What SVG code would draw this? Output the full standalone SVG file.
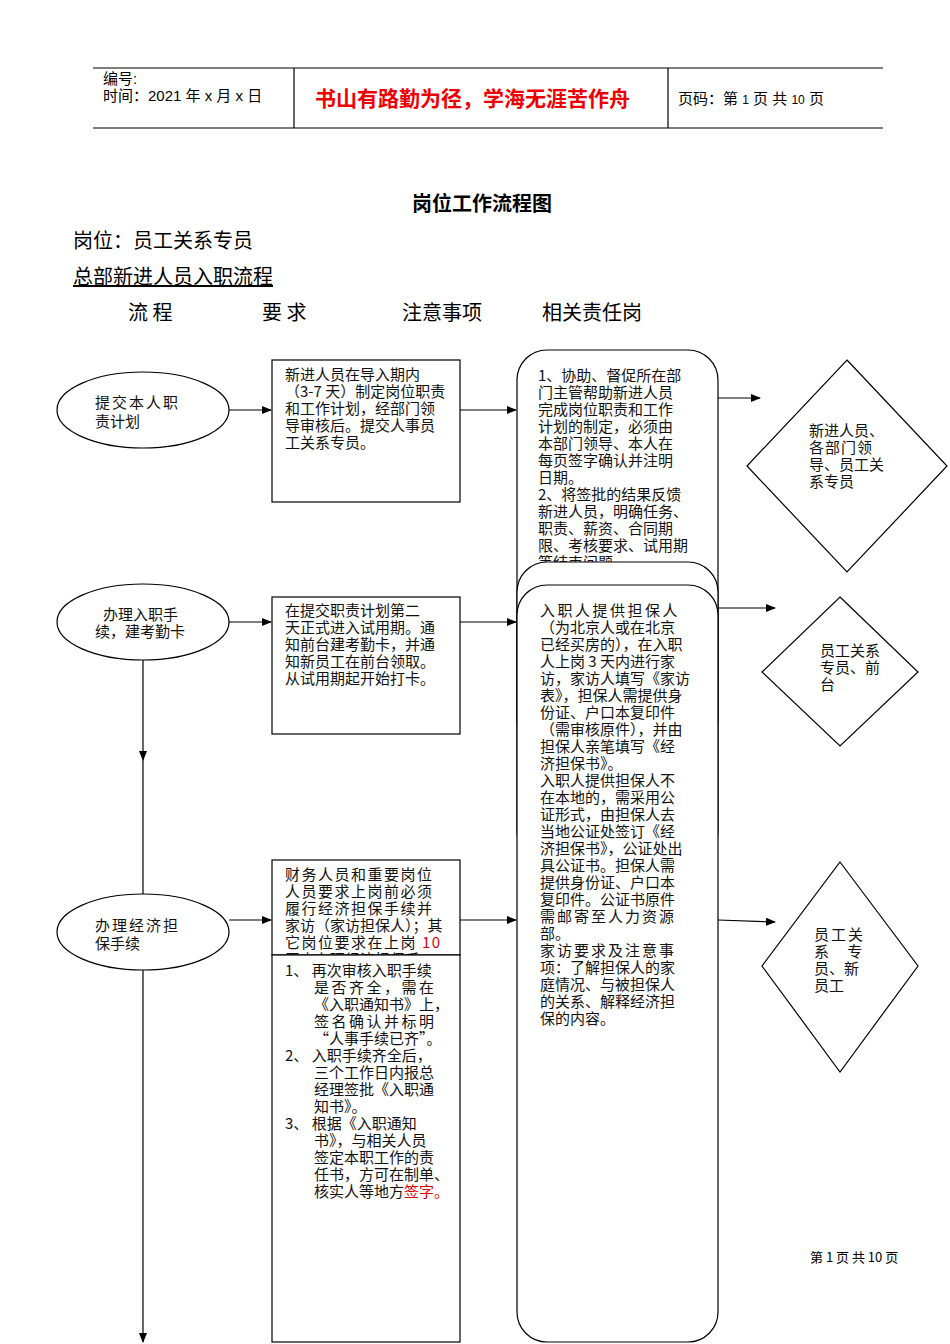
<svg xmlns="http://www.w3.org/2000/svg" width="950" height="1344" viewBox="0 0 950 1344">
<style>
.s{font-family:"Noto Sans CJK SC","Liberation Serif",serif;font-size:15px;fill:#111}
.h{font-family:"Liberation Sans","Noto Sans CJK SC",sans-serif;font-size:15px;fill:#000}
.b{fill:#fff;stroke:#000;stroke-width:1.2}
.l{stroke:#000;stroke-width:1.2;fill:none}
.r{fill:#d00}
</style>
<defs><marker id="a" markerWidth="10" markerHeight="8" refX="9" refY="4" orient="auto" markerUnits="userSpaceOnUse"><path d="M0,0L10,4L0,8z" fill="#000"/></marker>
<clipPath id="c1"><rect x="517" y="350" width="202" height="212"/></clipPath>
<clipPath id="c2"><rect x="272" y="860" width="189" height="95"/></clipPath>
</defs>
<g id="header">
<line x1="93" y1="68" x2="883" y2="68" class="l"/><line x1="93" y1="128" x2="883" y2="128" class="l"/>
<line x1="294" y1="68" x2="294" y2="128" class="l"/><line x1="668" y1="68" x2="668" y2="128" class="l"/>
<text x="103" y="84" class="h">编号:</text><text x="103" y="101" class="h">时间：2021 年 x 月 x 日</text>
<text x="315" y="106" font-family="Noto Sans CJK SC,sans-serif" font-size="21" font-weight="bold" fill="#e00">书山有路勤为径，学海无涯苦作舟</text>
<text x="678" y="104" class="h">页码：第 <tspan font-size="12">1</tspan> 页 共 <tspan font-size="12">10</tspan> 页</text>
</g>
<g id="titles" font-family="Noto Sans CJK SC,serif">
<text x="412" y="211" font-size="20" font-weight="bold">岗位工作流程图</text>
<text x="73" y="248" font-size="20">岗位：员工关系专员</text>
<text x="73" y="284" font-size="20" text-decoration="underline">总部新进人员入职流程</text>
<text x="128" y="320" font-size="20">流 程</text><text x="262" y="320" font-size="20">要 求</text>
<text x="402" y="320" font-size="20">注意事项</text><text x="542" y="320" font-size="20">相关责任岗</text>
<text x="810" y="1262" font-size="13">第 1 页 共 10 页</text>
</g>
<g id="connectors">
<line x1="229" y1="410" x2="271" y2="410" class="l" marker-end="url(#a)"/>
<line x1="460" y1="410" x2="516" y2="410" class="l" marker-end="url(#a)"/>
<line x1="718" y1="398" x2="760" y2="398" class="l" marker-end="url(#a)"/>
<line x1="229" y1="622" x2="271" y2="622" class="l" marker-end="url(#a)"/>
<line x1="460" y1="622" x2="516" y2="622" class="l" marker-end="url(#a)"/>
<line x1="718" y1="608" x2="775" y2="608" class="l" marker-end="url(#a)"/>
<line x1="229" y1="920" x2="271" y2="920" class="l" marker-end="url(#a)"/>
<line x1="460" y1="920" x2="516" y2="920" class="l" marker-end="url(#a)"/>
<line x1="718" y1="920" x2="775" y2="922" class="l" marker-end="url(#a)"/>
<line x1="143" y1="660" x2="143" y2="760" class="l" marker-end="url(#a)"/>
<line x1="143" y1="760" x2="143" y2="1342" class="l" marker-end="url(#a)"/>
</g>
<g id="n1"><ellipse cx="143" cy="410" rx="86" ry="38" class="b"/><text class="s" x="95" y="408" letter-spacing="2">提交本人职</text><text class="s" x="95" y="427">责计划</text></g>
<g id="n2"><ellipse cx="143" cy="622" rx="86" ry="38" class="b"/><text class="s" x="103" y="620">办理入职手</text><text class="s" x="95" y="637">续，建考勤卡</text></g>
<g id="n3"><ellipse cx="143" cy="932" rx="86" ry="38" class="b"/><text class="s" x="95" y="931" letter-spacing="2">办理经济担</text><text class="s" x="95" y="949">保手续</text></g>
<g id="b1"><rect x="272" y="360" width="188" height="142" class="b"/>
<text class="s" x="285" y="380">新进人员在导入期内</text><text class="s" x="285" y="397">（3-7 天）制定岗位职责</text><text class="s" x="285" y="414">和工作计划，经部门领</text><text class="s" x="285" y="431">导审核后。提交人事员</text><text class="s" x="285" y="448">工关系专员。</text></g>
<g id="b2"><rect x="272" y="597" width="188" height="137" class="b"/>
<text class="s" x="285" y="616">在提交职责计划第二</text><text class="s" x="285" y="633">天正式进入试用期。通</text><text class="s" x="285" y="650">知前台建考勤卡，并通</text><text class="s" x="285" y="667">知新员工在前台领取。</text><text class="s" x="285" y="684">从试用期起开始打卡。</text></g>
<g id="b3"><rect x="272" y="860" width="188" height="95" class="b"/>
<g clip-path="url(#c2)"><text class="s" x="285" y="880" letter-spacing="1.5">财务人员和重要岗位</text><text class="s" x="285" y="897" letter-spacing="1.5">人员要求上岗前必须</text><text class="s" x="285" y="914" letter-spacing="1.5">履行经济担保手续并</text><text class="s" x="285" y="931">家访（家访担保人）；其</text><text class="s" x="285" y="948" letter-spacing="1.5">它岗位要求在上岗 <tspan class="r">10</tspan></text><text class="s" x="285" y="965">天内办理经济担保手</text></g></g>
<g id="b4"><rect x="272" y="955" width="188" height="387" class="b"/>
<text class="s" x="285" y="976">1、 再次审核入职手续</text><text class="s" x="314" y="993" letter-spacing="2.5">是否齐全，需在</text><text class="s" x="314" y="1010">《入职通知书》上，</text><text class="s" x="314" y="1027" letter-spacing="2.5">签名确认并标明</text><text class="s" x="314" y="1044">“人事手续已齐”。</text><text class="s" x="285" y="1061">2、 入职手续齐全后，</text><text class="s" x="314" y="1078">三个工作日内报总</text><text class="s" x="314" y="1095">经理签批《入职通</text><text class="s" x="314" y="1112">知书》。</text><text class="s" x="285" y="1129">3、 根据《入职通知</text><text class="s" x="314" y="1146">书》，与相关人员</text><text class="s" x="314" y="1163">签定本职工作的责</text><text class="s" x="314" y="1180">任书，方可在制单、</text><text class="s" x="314" y="1197">核实人等地方<tspan class="r">签字。</tspan></text></g>
<g id="r1"><rect x="517" y="350" width="201" height="400" rx="30" class="b"/>
<g clip-path="url(#c1)"><text class="s" x="538" y="381">1、协助、督促所在部</text><text class="s" x="538" y="398">门主管帮助新进人员</text><text class="s" x="538" y="415">完成岗位职责和工作</text><text class="s" x="538" y="432">计划的制定，必须由</text><text class="s" x="538" y="449">本部门领导、本人在</text><text class="s" x="538" y="466">每页签字确认并注明</text><text class="s" x="538" y="483">日期。</text><text class="s" x="538" y="500">2、将签批的结果反馈</text><text class="s" x="538" y="517">新进人员，明确任务、</text><text class="s" x="538" y="534">职责、薪资、合同期</text><text class="s" x="538" y="551">限、考核要求、试用期</text><text class="s" x="538" y="568">等结束问题。</text></g></g>
<g id="r2"><rect x="517" y="562" width="201" height="300" rx="30" class="b"/><text class="s" x="538" y="590" clip-path="url(#c1)">通知前台及部门新入</text></g>
<g id="r3"><rect x="517" y="585" width="201" height="757" rx="30" class="b"/>
<text class="s" x="540" y="616" letter-spacing="2.5">入职人提供担保人</text><text class="s" x="540" y="633">（为北京人或在北京</text><text class="s" x="540" y="650">已经买房的），在入职</text><text class="s" x="540" y="667">人上岗 3 天内进行家</text><text class="s" x="540" y="684">访，家访人填写《家访</text><text class="s" x="540" y="701">表》，担保人需提供身</text><text class="s" x="540" y="718">份证、户口本复印件</text><text class="s" x="540" y="735">（需审核原件），并由</text><text class="s" x="540" y="752">担保人亲笔填写《经</text><text class="s" x="540" y="769">济担保书》。</text><text class="s" x="540" y="786">入职人提供担保人不</text><text class="s" x="540" y="803">在本地的，需采用公</text><text class="s" x="540" y="820">证形式，由担保人去</text><text class="s" x="540" y="837">当地公证处签订《经</text><text class="s" x="540" y="854">济担保书》，公证处出</text><text class="s" x="540" y="871">具公证书。担保人需</text><text class="s" x="540" y="888">提供身份证、户口本</text><text class="s" x="540" y="905">复印件。公证书原件</text><text class="s" x="540" y="922" letter-spacing="2">需邮寄至人力资源</text><text class="s" x="540" y="939">部。</text><text class="s" x="540" y="956" letter-spacing="2">家访要求及注意事</text><text class="s" x="540" y="973">项：了解担保人的家</text><text class="s" x="540" y="990">庭情况、与被担保人</text><text class="s" x="540" y="1007">的关系、解释经济担</text><text class="s" x="540" y="1024">保的内容。</text></g>
<g id="d1"><polygon points="847,360 947,466 847,572 747,466" class="b"/><text class="s" x="809" y="436">新进人员、</text><text class="s" x="809" y="453" letter-spacing="1">各部门领</text><text class="s" x="809" y="470">导、员工关</text><text class="s" x="809" y="487">系专员</text></g>
<g id="d2"><polygon points="840,597 918,672 840,746 762,672" class="b"/><text class="s" x="820" y="656">员工关系</text><text class="s" x="820" y="673">专员、前</text><text class="s" x="820" y="690">台</text></g>
<g id="d3"><polygon points="840,862 918,966 840,1072 762,966" class="b"/><text class="s" x="814" y="940" letter-spacing="2">员工关</text><text class="s" x="814" y="957">系　 专</text><text class="s" x="814" y="974">员、新</text><text class="s" x="814" y="991">员工</text></g>
</svg>
